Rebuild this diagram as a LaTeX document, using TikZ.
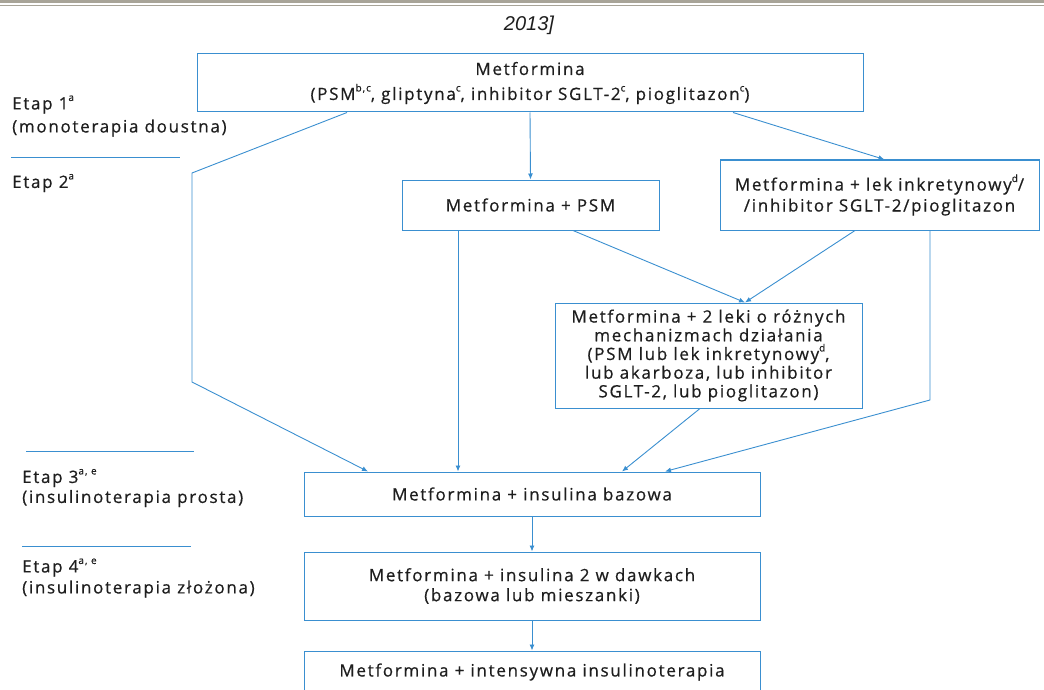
\documentclass[tikz,border=0pt]{standalone}
\usepackage{fontspec}
\setmainfont[LetterSpace=10,FakeBold=0.6]{Open Sans}
\newfontfamily\arialfont{Liberation Sans}
\usetikzlibrary{arrows.meta,calc}
\definecolor{lblue}{HTML}{3A8FD0}
\definecolor{txt}{HTML}{1E1E1E}
\definecolor{rulegray}{HTML}{A8A498}
\newcommand{\sups}[1]{\raisebox{0.5em}{\fontsize{10}{10}\selectfont #1}}
\begin{document}
\begin{tikzpicture}[x=1pt,y=-1pt,
  box/.style={draw=lblue,line width=1pt,inner sep=0pt,align=center,text=txt,font=\fontsize{17}{21}\selectfont},
  conn/.style={draw=lblue,line width=0.9pt,-{Latex[length=6pt,width=5pt]}},
  sep/.style={draw=lblue,line width=0.8pt},
  lab/.style={anchor=west,align=left,text=txt,inner sep=0pt,font=\fontsize{17}{21}\selectfont}]
\useasboundingbox (0,0) rectangle (1044,690);
\clip (0,0) rectangle (1044,690);
\fill[rulegray] (0,0) rectangle (1044,3.5);
\draw[rulegray,line width=1pt] (0,5.5) -- (1044,5.5);
\node[text=txt,font=\arialfont\itshape\fontsize{20}{22}\selectfont] (year) at (529,25) {2013]};
% boxes
\node[box,minimum width=666pt,minimum height=58pt,font=\fontsize{17}{25}\selectfont] (top) at (530,83)
  {Metformina\\(PSM\sups{b,c}, gliptyna\sups{c}, inhibitor SGLT-2\sups{c}, pioglitazon\sups{c})};
\node[box,minimum width=257pt,minimum height=50pt] (psm) at (530.5,205) {Metformina + PSM};
\node[box,minimum width=319pt,minimum height=70pt] (ink) at (879.5,195)
  {Metformina + lek inkretynowy\sups{d}/\\/inhibitor SGLT-2/pioglitazon};
\node[box,minimum width=307pt,minimum height=105pt,font=\fontsize{17}{18.7}\selectfont] (two) at (708.5,355.5)
  {Metformina + 2 leki o różnych\\mechanizmach działania\\(PSM lub lek inkretynowy\sups{d},\\lub akarboza, lub inhibitor\\SGLT-2, lub pioglitazon)};
\node[box,minimum width=456pt,minimum height=44pt] (baz) at (532,494) {Metformina + insulina bazowa};
\node[box,minimum width=456pt,minimum height=68pt,font=\fontsize{17}{20}\selectfont] (daw) at (532,586) {Metformina + insulina 2 w dawkach\\(bazowa lub mieszanki)};
\node[box,minimum width=456pt,minimum height=80pt] (int) at (532,691) {};
\node[text=txt,font=\fontsize{17}{19}\selectfont] (intt) at (532,672) {Metformina + intensywna insulinoterapia};
% left labels
\node[lab,font=\fontsize{17}{23}\selectfont] (e1) at (12,116) {Etap 1\sups{a}\\(monoterapia doustna)};
\node[lab] (e2) at (12,183) {Etap 2\sups{a}};
\node[lab,font=\fontsize{17}{20}\selectfont] (e3) at (22,488) {Etap 3\sups{a, e}\\(insulinoterapia prosta)};
\node[lab] (e4) at (22,578) {Etap 4\sups{a, e}\\(insulinoterapia złożona)};
\draw[sep] (11,157) -- (180,157);
\draw[sep] (26,451) -- (194,451);
\draw[sep] (22,546) -- (191,546);
% connectors
\coordinate (b1) at (192,173);
\coordinate (b2) at (192,382);
\coordinate (b3) at (930,400);
\draw[conn] ($(top.south)+(-183,0)$) -- (b1) -- (b2) -- ($(baz.north)+(-164,0)$);
\draw[conn] (top.south) -- (psm.north);
\draw[conn] ($(top.south)+(203,0)$) -- ($(ink.north)+(5,0)$);
\draw[conn] ($(psm.south)+(-72.5,0)$) -- ($(baz.north)+(-74,0)$);
\draw[conn] ($(psm.south)+(42.5,0)$) -- ($(two.north)+(36.5,0)$);
\draw[conn] ($(ink.south)+(-24.5,0)$) -- ($(two.north)+(36.5,0)$);
\draw[conn] ($(ink.south)+(50.5,0)$) -- (b3) -- ($(baz.north)+(133,0)$);
\draw[conn] ($(two.south)+(-8.5,0)$) -- ($(baz.north)+(90,0)$);
\draw[conn] (baz.south) -- (daw.north);
\draw[conn] (daw.south) -- (int.north);
\end{tikzpicture}
\end{document}
